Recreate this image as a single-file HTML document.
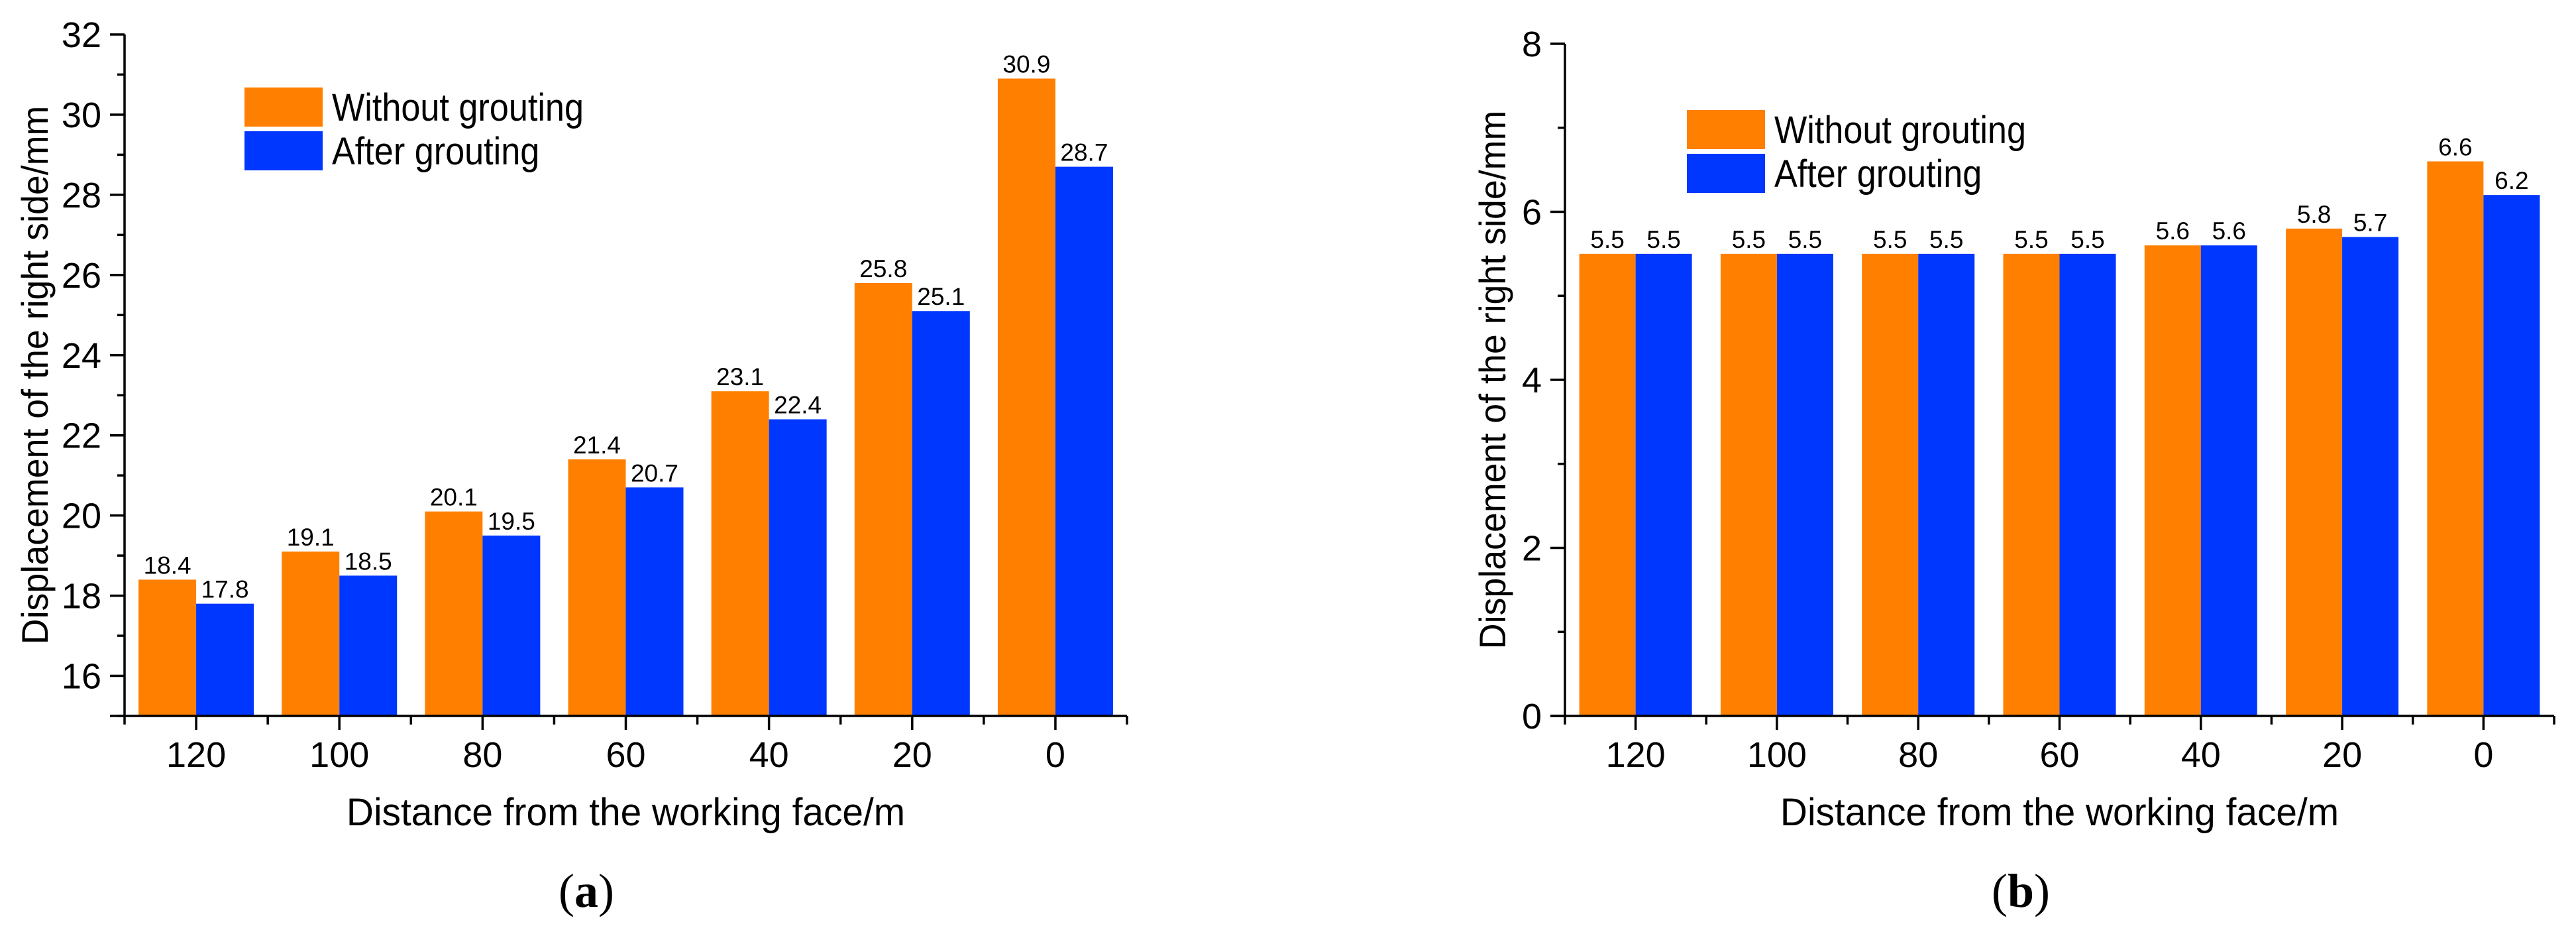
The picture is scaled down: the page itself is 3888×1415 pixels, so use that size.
<!DOCTYPE html>
<html><head><meta charset="utf-8"><style>
html,body{margin:0;padding:0;background:#fff;}
svg{display:block;font-family:"Liberation Sans",Arial,sans-serif;}
</style></head><body>
<svg id="fig" xmlns="http://www.w3.org/2000/svg" width="3888" height="1415" viewBox="0 0 3888 1415">
<rect width="3888" height="1415" fill="#fff"/>
</svg>
<script>
const categories = ["120","100","80","60","40","20","0"];
const seriesNames = ["Without grouting","After grouting"];
const leftWithout = [18.4,19.1,20.1,21.4,23.1,25.8,30.9];
const leftAfter = [17.8,18.5,19.5,20.7,22.4,25.1,28.7];
const rightWithout = [5.5,5.5,5.5,5.5,5.6,5.8,6.6];
const rightAfter = [5.5,5.5,5.5,5.5,5.6,5.7,6.2];
const leftTicks = [16,18,20,22,24,26,28,30,32];
const rightTicks = [0,2,4,6,8];

const NS="http://www.w3.org/2000/svg";
const svg=document.getElementById('fig');
const colors=["#FF8000","#0037FF"];
function el(tag,attrs,parent,text){
  const e=document.createElementNS(NS,tag);
  for(const k in attrs)e.setAttribute(k,attrs[k]);
  if(text!==undefined)e.textContent=text;
  (parent||svg).appendChild(e);return e;
}
function drawChart(cfg){
  const g=el('g',{});
  
  
  const {x0,x1,yTop,yBase,ymin,ymax}=cfg;
  const n=categories.length, step=(x1-x0)/n;
  const ys=v=>yBase-(v-ymin)/(ymax-ymin)*(yBase-yTop);
  const xc=i=>x0+step*(i+0.5);
  const bw=cfg.bw;
  [cfg.s1,cfg.s2].forEach((arr,si)=>{
    arr.forEach((v,i)=>{
      const bx= si===0? xc(i)-bw : xc(i);
      const r=el('rect',{x:bx,y:ys(v),width:bw,height:yBase-ys(v),fill:colors[si]},g);
      
      
      const t=el('text',{x:bx+bw/2,y:ys(v)-9,'font-size':37,'text-anchor':'middle',fill:'#000'},g,v.toFixed(1));
      
      
    });
  });
  const ax=el('path',{d:`M${x0} ${yTop}V${yBase}M${x0-22} ${yBase}H${x1}`,stroke:'#000','stroke-width':3.5,fill:'none'},g);
  
  
  cfg.ticks.forEach((v,i)=>{
    el('line',{x1:x0-22,x2:x0,y1:ys(v),y2:ys(v),stroke:'#000','stroke-width':3.5},g);
    const t=el('text',{x:x0-35,y:ys(v)+19,'font-size':54,'text-anchor':'end'},g,String(v));
    
    
    if(i<cfg.ticks.length-1){
      const m=(v+cfg.ticks[i+1])/2;
      el('line',{x1:x0-11,x2:x0,y1:ys(m),y2:ys(m),stroke:'#000','stroke-width':3.5},g);
    }
  });
  if(cfg.ticks[0]>ymin){const m=cfg.ticks[0]-(cfg.ticks[1]-cfg.ticks[0])/2;
    if(m>=ymin) el('line',{x1:x0-11,x2:x0,y1:ys(m),y2:ys(m),stroke:'#000','stroke-width':3.5},g);}
  for(let i=0;i<=n;i++){
    el('line',{x1:x0+step*i,x2:x0+step*i,y1:yBase,y2:yBase+13,stroke:'#000','stroke-width':3.5},g);
  }
  categories.forEach((c,i)=>{
    el('line',{x1:xc(i),x2:xc(i),y1:yBase,y2:yBase+21,stroke:'#000','stroke-width':3.5},g);
    const t=el('text',{x:xc(i),y:yBase+77,'font-size':54,'text-anchor':'middle'},g,c);
    
    
  });
  const xt=el('text',{x:0,y:0,'font-size':58,'text-anchor':'middle',transform:`translate(${(x0+x1)/2},1245) scale(0.98,1)`},g,'Distance from the working face/m');
  
  
  const yt=el('text',{x:0,y:0,'font-size':56,'text-anchor':'middle',transform:`translate(${cfg.ytx},${(yTop+yBase)/2}) rotate(-90) scale(0.96,1)`},g,'Displacement of the right side/mm');
  
  
  const lg=el('g',{},g);
  
  
  seriesNames.forEach((s,si)=>{
    const yy=cfg.ly+si*66;
    el('rect',{x:cfg.lx,y:yy,width:118,height:59,fill:colors[si]},lg);
    const t=el('text',{x:0,y:0,'font-size':58,transform:`translate(${cfg.lx+132},${yy+50}) scale(0.9,1)`},lg,s);
    
    
  });
  const cap=el('text',{x:cfg.capx,y:1368,'font-size':72,'text-anchor':'middle','font-family':'"Liberation Serif",serif'},g);
  
  
  el('tspan',{},cap,'(');
  el('tspan',{'font-weight':'bold'},cap,cfg.cap);
  el('tspan',{},cap,')');
}
drawChart({name:'chart-a',x0:188,x1:1701,yTop:52,yBase:1080,ymin:15,ymax:32,bw:87,
  s1:leftWithout,s2:leftAfter,ticks:leftTicks,ytx:72,lx:369,ly:132,capx:885,cap:'a'});
drawChart({name:'chart-b',x0:2362,x1:3855,yTop:66,yBase:1080,ymin:0,ymax:8,bw:85,
  s1:rightWithout,s2:rightAfter,ticks:rightTicks,ytx:2272,lx:2546,ly:166,capx:3050,cap:'b'});
</script>
</body></html>
